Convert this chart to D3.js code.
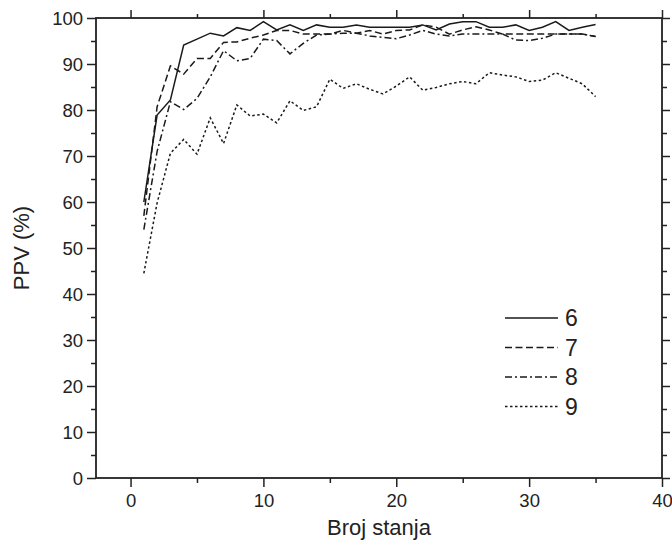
<!DOCTYPE html>
<html>
<head>
<meta charset="utf-8">
<script src="https://cdn.jsdelivr.net/npm/d3@7"></script>
<style>
  body { margin: 0; background: #fff; }
  svg text { font-family: "Liberation Sans", Arial, sans-serif; fill: #222; }
</style>
</head>
<body>
<svg id="chart" width="672" height="545"></svg>
<script>
// podaci
var brojStanja = d3.range(1, 36);
var ppv6 = [60, 78.9, 82.2, 94.1, 95.4, 96.7, 96.1, 97.9, 97.3, 99.2, 97.4, 98.5, 97.3, 98.5, 98, 98, 98.5, 98,
            98, 98, 98, 98.5, 97.4, 98.7, 99.2, 99.2, 98, 98, 98.5, 97.3, 98, 99.2, 97.3, 98, 98.6];
var ppv7 = [57, 80.7, 89.6, 87.8, 91.2, 91.2, 94.7, 94.8, 95.6, 96.3, 97.3, 97.3, 96.5, 96.5, 96.5, 97.3, 96.7, 97.3,
            96.5, 97.3, 97.4, 98.5, 98, 96.5, 97.4, 98.1, 97.4, 96.5, 96.5, 96.5, 96.5, 96.5, 96.5, 96.5, 96];
var ppv8 = [54, 71, 81.8, 80.1, 82.5, 87.2, 92.9, 90.7, 91.2, 95.4, 95.1, 92.2, 94.5, 96.3, 96.5, 96.7, 96.7, 96.1,
            95.8, 95.5, 96.3, 97.3, 96.5, 96.1, 96.5, 96.5, 96.5, 96.5, 95.2, 95.1, 95.6, 96.5, 96.5, 96.5, 96];
var ppv9 = [44.5, 59.8, 70.6, 73.6, 70.4, 78.3, 72.7, 81.1, 78.7, 79.1, 77.2, 82, 79.9, 80.7, 86.7, 84.7, 85.7, 84.5,
            83.5, 85.2, 87.2, 84.3, 84.9, 85.7, 86.2, 85.7, 88.1, 87.6, 87.2, 86.2, 86.5, 88.1, 86.9, 85.7, 82.9];
var imena = ["6", "7", "8", "9"];
var crtice = ["none", "7,3.5", "7,3,2,3", "2.5,2.5"];
var xTicks = [0, 10, 20, 30, 40];
var yTicks = [0, 10, 20, 30, 40, 50, 60, 70, 80, 90, 100];

var serije = [ppv6, ppv7, ppv8, ppv9];

var svg = d3.select("#chart");
var mLeft = 96, mRight = 662, mTop = 18, mBottom = 478;

var x = d3.scaleLinear().domain([-2.6, 40]).range([mLeft, mRight]);
var y = d3.scaleLinear().domain([0, 100]).range([mBottom, mTop]);

var minorX = d3.range(0, 41, 5);
var minorY = d3.range(0, 101, 5);
function glavna(d) { return d % 10 == 0; }

// dole
var gB = svg.append("g").attr("transform", "translate(0," + mBottom + ")");
gB.call(d3.axisBottom(x).tickValues(minorX).tickSize(5).tickFormat(""));
gB.selectAll(".tick line").filter(glavna).attr("y2", 9);
gB.selectAll(".tick").filter(glavna).append("text")
  .attr("y", 29).attr("text-anchor", "middle").attr("font-size", 18.5).text(function(d){ return d; });

// gore
var gT = svg.append("g").attr("transform", "translate(0," + mTop + ")");
gT.call(d3.axisTop(x).tickValues(minorX).tickSize(4).tickFormat(""));
gT.selectAll(".tick line").filter(glavna).attr("y2", -8);

// levo
var gL = svg.append("g").attr("transform", "translate(" + mLeft + ",0)");
gL.call(d3.axisLeft(y).tickValues(minorY).tickSize(5).tickFormat(""));
gL.selectAll(".tick line").filter(glavna).attr("x2", -9);
gL.selectAll(".tick").filter(glavna).append("text")
  .attr("x", -13).attr("dy", "0.35em").attr("text-anchor", "end").attr("font-size", 18.5).text(function(d){ return d; });

// desno
var gR = svg.append("g").attr("transform", "translate(" + mRight + ",0)");
gR.call(d3.axisRight(y).tickValues(minorY).tickSize(5).tickFormat(""));
gR.selectAll(".tick line").filter(glavna).attr("x2", 8);

svg.selectAll(".domain").remove();
svg.selectAll(".tick line").attr("stroke", "#222").attr("stroke-width", 1.5);

svg.append("rect").attr("x", mLeft).attr("y", mTop).attr("width", mRight - mLeft).attr("height", mBottom - mTop)
  .attr("fill", "none").attr("stroke", "#222").attr("stroke-width", 1.8);

// linije
var line = d3.line().x(function(d, i){ return x(brojStanja[i]); }).y(function(d){ return y(d); });
for (var i = 0; i < serije.length; i++) {
  svg.append("path").datum(serije[i]).attr("d", line)
    .attr("fill", "none").attr("stroke", "#1a1a1a").attr("stroke-width", 1.5)
    .attr("stroke-dasharray", crtice[i]).attr("stroke-linejoin", "miter");
}

// legenda
for (var i = 0; i < imena.length; i++) {
  var ly = 318 + i * 29.5;
  svg.append("line").attr("x1", 505).attr("x2", 558).attr("y1", ly).attr("y2", ly)
    .attr("stroke", "#1a1a1a").attr("stroke-width", 1.5).attr("stroke-dasharray", crtice[i]);
  svg.append("text").attr("x", 565).attr("y", ly).attr("dy", "0.36em").attr("font-size", 23).text(imena[i]);
}

// naslovi osa
svg.append("text").attr("x", (mLeft + mRight) / 2).attr("y", 535).attr("text-anchor", "middle")
  .attr("font-size", 22).text("Broj stanja");
svg.append("text").attr("transform", "translate(29," + ((mTop + mBottom) / 2) + ") rotate(-90)")
  .attr("text-anchor", "middle").attr("font-size", 22).text("PPV (%)");
</script>
</body>
</html>
